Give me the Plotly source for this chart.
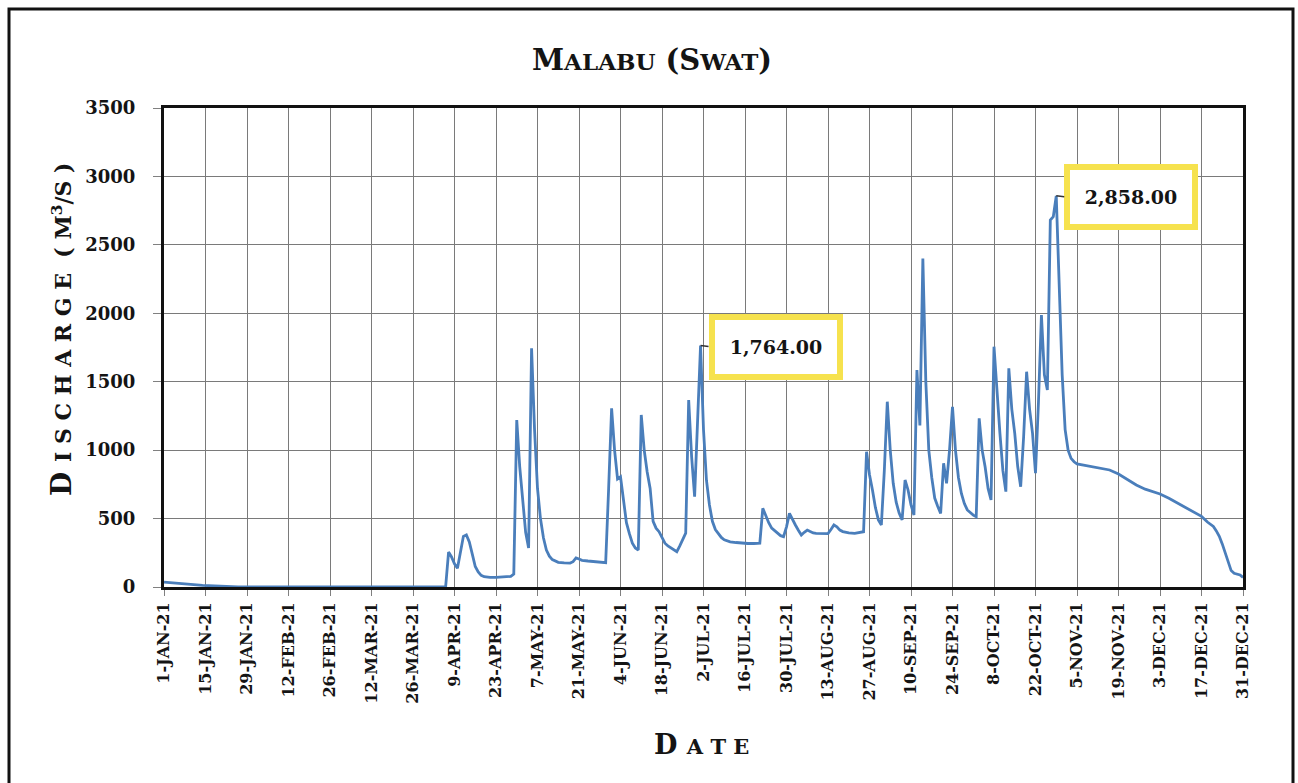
import plotly.graph_objects as go

# Daily discharge readings, Malabu gauge on the Swat river, 2021
obs_dates = [
    "2021-01-01", "2021-01-04", "2021-01-07", "2021-01-10", "2021-01-14", "2021-01-18",
    "2021-01-22", "2021-01-26", "2021-04-06",
    "2021-04-07", "2021-04-08", "2021-04-09", "2021-04-10", "2021-04-11", "2021-04-12",
    "2021-04-13", "2021-04-14", "2021-04-15", "2021-04-16", "2021-04-17", "2021-04-18",
    "2021-04-19", "2021-04-20", "2021-04-21", "2021-04-23", "2021-04-25", "2021-04-27",
    "2021-04-28", "2021-04-29", "2021-04-30",
    "2021-05-01", "2021-05-02", "2021-05-03", "2021-05-04", "2021-05-05", "2021-05-06",
    "2021-05-07", "2021-05-08", "2021-05-09", "2021-05-10", "2021-05-11", "2021-05-12",
    "2021-05-13", "2021-05-14", "2021-05-16", "2021-05-18", "2021-05-19", "2021-05-20",
    "2021-05-21", "2021-05-22", "2021-05-24", "2021-05-26", "2021-05-28", "2021-05-30",
    "2021-05-31",
    "2021-06-01", "2021-06-02", "2021-06-03", "2021-06-04", "2021-06-05", "2021-06-06",
    "2021-06-07", "2021-06-08", "2021-06-09", "2021-06-10", "2021-06-11", "2021-06-12",
    "2021-06-13", "2021-06-14", "2021-06-15", "2021-06-16", "2021-06-17", "2021-06-18",
    "2021-06-19", "2021-06-20", "2021-06-21", "2021-06-22", "2021-06-23", "2021-06-24",
    "2021-06-25", "2021-06-26", "2021-06-27", "2021-06-28", "2021-06-29", "2021-06-30",
    "2021-07-01", "2021-07-02", "2021-07-03", "2021-07-04", "2021-07-05", "2021-07-06",
    "2021-07-07", "2021-07-08", "2021-07-09", "2021-07-10", "2021-07-11", "2021-07-13",
    "2021-07-15", "2021-07-17", "2021-07-19", "2021-07-21", "2021-07-22", "2021-07-23",
    "2021-07-24", "2021-07-25", "2021-07-26", "2021-07-27", "2021-07-28", "2021-07-29",
    "2021-07-30", "2021-07-31",
    "2021-08-01", "2021-08-02", "2021-08-03", "2021-08-04", "2021-08-05", "2021-08-06",
    "2021-08-07", "2021-08-08", "2021-08-09", "2021-08-11", "2021-08-13", "2021-08-14",
    "2021-08-15", "2021-08-16", "2021-08-17", "2021-08-18", "2021-08-20", "2021-08-22",
    "2021-08-24", "2021-08-25", "2021-08-26", "2021-08-27", "2021-08-28", "2021-08-29",
    "2021-08-30", "2021-08-31",
    "2021-09-01", "2021-09-02", "2021-09-03", "2021-09-04", "2021-09-05", "2021-09-06",
    "2021-09-07", "2021-09-08", "2021-09-09", "2021-09-10", "2021-09-11", "2021-09-12",
    "2021-09-13", "2021-09-14", "2021-09-15", "2021-09-16", "2021-09-17", "2021-09-18",
    "2021-09-19", "2021-09-20", "2021-09-21", "2021-09-22", "2021-09-23", "2021-09-24",
    "2021-09-25", "2021-09-26", "2021-09-27", "2021-09-28", "2021-09-29", "2021-09-30",
    "2021-10-01", "2021-10-02", "2021-10-03", "2021-10-04", "2021-10-05", "2021-10-06",
    "2021-10-07", "2021-10-08", "2021-10-09", "2021-10-10", "2021-10-11", "2021-10-12",
    "2021-10-13", "2021-10-14", "2021-10-15", "2021-10-16", "2021-10-17", "2021-10-18",
    "2021-10-19", "2021-10-20", "2021-10-21", "2021-10-22", "2021-10-23", "2021-10-24",
    "2021-10-25", "2021-10-26", "2021-10-27", "2021-10-28", "2021-10-29", "2021-10-30",
    "2021-10-31",
    "2021-11-01", "2021-11-02", "2021-11-03", "2021-11-04", "2021-11-05", "2021-11-07",
    "2021-11-10", "2021-11-13", "2021-11-16", "2021-11-19", "2021-11-22", "2021-11-25",
    "2021-11-28",
    "2021-12-01", "2021-12-03", "2021-12-06", "2021-12-09", "2021-12-12", "2021-12-15",
    "2021-12-17", "2021-12-19", "2021-12-21", "2021-12-22", "2021-12-23", "2021-12-24",
    "2021-12-25", "2021-12-26", "2021-12-27", "2021-12-28", "2021-12-29", "2021-12-30",
    "2021-12-31",
]

discharge = [
    35, 30, 22, 15, 12, 8,
    3, 0, 0,
    255, 220, 170, 137, 260, 370,
    380, 330, 240, 150, 110, 85,
    75, 72, 70, 70, 72, 75,
    78, 95, 1220,
    880, 620, 400, 285, 1745, 1150,
    720, 500, 360, 270, 225, 200,
    188, 180, 176, 175, 185, 212,
    205, 195, 190, 185, 180, 178,
    720,
    1306, 1000, 790, 805, 620, 470,
    390, 320, 285, 270, 1257, 1000,
    840, 720, 480, 430, 404, 360,
    320, 300, 285, 270, 258, 300,
    343, 394, 1366, 950, 660, 1150,
    1764, 1150, 780, 600, 480, 420,
    390, 362, 345, 335, 330, 325,
    320, 318, 318, 320, 575, 520,
    470, 430, 410, 390, 375, 368,
    440, 538,
    490, 453, 415, 380, 400, 416,
    405, 395, 392, 390, 390, 420,
    453, 440, 416, 405, 395, 392,
    398, 404, 988, 820, 709, 580,
    490, 453,
    850, 1354, 1000, 758, 620, 540,
    490, 782, 709, 600, 526, 1585,
    1180, 2401, 1500, 1000, 800, 650,
    590, 538, 904, 758, 1000, 1317,
    1000, 800, 684, 610, 563, 540,
    525, 514, 1232, 1000, 879, 720,
    636, 1756, 1400, 1123, 850, 697,
    1598, 1300, 1123, 880, 733, 1100,
    1573, 1300, 1123, 831, 1350, 1987,
    1550, 1440, 2681, 2706, 2858, 2200,
    1550,
    1150, 1000, 940, 915, 900, 891,
    880, 868, 855, 826, 785, 745,
    715,
    695, 680, 648, 612, 578, 538,
    516, 475, 442, 410, 370, 315,
    250, 180, 120, 100, 95, 88,
    70,
]

# Fortnightly date ticks along the x axis
tick_dates = [
    "2021-01-01", "2021-01-15", "2021-01-29", "2021-02-12", "2021-02-26", "2021-03-12",
    "2021-03-26", "2021-04-09", "2021-04-23", "2021-05-07", "2021-05-21", "2021-06-04",
    "2021-06-18", "2021-07-02", "2021-07-16", "2021-07-30", "2021-08-13", "2021-08-27",
    "2021-09-10", "2021-09-24", "2021-10-08", "2021-10-22", "2021-11-05", "2021-11-19",
    "2021-12-03", "2021-12-17", "2021-12-31",
]
tick_labels = [
    "1-JAN-21", "15-JAN-21", "29-JAN-21", "12-FEB-21", "26-FEB-21", "12-MAR-21",
    "26-MAR-21", "9-APR-21", "23-APR-21", "7-MAY-21", "21-MAY-21", "4-JUN-21",
    "18-JUN-21", "2-JUL-21", "16-JUL-21", "30-JUL-21", "13-AUG-21", "27-AUG-21",
    "10-SEP-21", "24-SEP-21", "8-OCT-21", "22-OCT-21", "5-NOV-21", "19-NOV-21",
    "3-DEC-21", "17-DEC-21", "31-DEC-21",
]
y_ticks = [0, 500, 1000, 1500, 2000, 2500, 3000, 3500]

# Flood peaks that carry a value callout
peak_dates = ["2021-07-01", "2021-10-29"]

# Page geometry (pixels)
W, H = 1298, 783
ML, MR, MT, MB = 164, 55, 108, 196
PW, PH = W - ML - MR, H - MT - MB


def px_x(px):
    return (px - ML) / PW


def px_y(py):
    return (H - MB - py) / PH


SERIF = "DejaVu Serif"
INK = "#141414"
NB = "\u00a0"


def spaced(word):
    return NB.join(word)


fig = go.Figure()
fig.add_trace(go.Scatter(
    x=obs_dates, y=discharge, mode="lines",
    line=dict(color="#4A7EBB", width=2.8),
    hoverinfo="x+y", showlegend=False,
))

annotations = []
for d in peak_dates:
    v = discharge[obs_dates.index(d)]
    annotations.append(dict(
        x=d, y=v, xref="x", yref="y",
        text=f"{v:,.2f}",
        showarrow=True, arrowhead=0, arrowwidth=1.5, arrowcolor="#333333",
        ax=8, ay=1, axref="pixel", ayref="pixel",
        xanchor="left", yanchor="middle",
        width=102, height=34, borderpad=10,
        bgcolor="white", bordercolor="#F6E24E", borderwidth=6,
        font=dict(family=SERIF, size=19, color=INK, weight="bold"),
    ))

# Chart title in small caps
annotations.append(dict(
    x=px_x(652), y=px_y(60), xref="paper", yref="paper",
    text="M<span style='font-size:23px'>ALABU</span> (S<span style='font-size:23px'>WAT</span>)",
    showarrow=False, xanchor="center", yanchor="middle",
    font=dict(family=SERIF, size=29, color=INK, weight="bold"),
))

# Y axis title, letter spaced small caps
y_title = ("D" + NB + "<span style='font-size:22px'>" + spaced("ISCHARGE") + NB + NB
           + "(" + NB + "M<sup>3</sup>/S" + NB + ")</span>")
annotations.append(dict(
    x=px_x(61), y=px_y(329), xref="paper", yref="paper",
    text=y_title, textangle=-90,
    showarrow=False, xanchor="center", yanchor="middle",
    font=dict(family=SERIF, size=28, color=INK, weight="bold"),
))

# X axis title
annotations.append(dict(
    x=px_x(701), y=px_y(744), xref="paper", yref="paper",
    text="D" + NB + "<span style='font-size:21px'>" + spaced("ATE") + "</span>",
    showarrow=False, xanchor="center", yanchor="middle",
    font=dict(family=SERIF, size=27, color=INK, weight="bold"),
))

# Outer frame around the whole chart
shapes = [dict(
    type="rect", xref="paper", yref="paper",
    x0=px_x(9), x1=px_x(1293), y0=px_y(800), y1=px_y(9),
    line=dict(color="#111111", width=3), fillcolor="rgba(0,0,0,0)", layer="above",
)]

fig.update_layout(
    width=W, height=H, autosize=False,
    margin=dict(l=ML, r=MR, t=MT, b=MB, pad=0),
    paper_bgcolor="white", plot_bgcolor="white",
    annotations=annotations, shapes=shapes,
    showlegend=False,
)

fig.update_xaxes(
    type="date", range=["2021-01-01", "2021-12-31"],
    tickmode="array", tickvals=tick_dates, ticktext=tick_labels,
    tickangle=-90, ticks="outside", ticklen=6, tickcolor="#808080", tickwidth=1,
    tickfont=dict(family=SERIF, size=16, color=INK, weight="bold"),
    showgrid=True, gridcolor="#7A7A7A", gridwidth=1.2,
    showline=True, linecolor="#111111", linewidth=3, mirror=True,
    zeroline=False, automargin=False,
)
fig.update_yaxes(
    range=[0, 3500], tickmode="array", tickvals=y_ticks, tickformat="d",
    ticks="outside", ticklen=8, tickcolor="#808080", tickwidth=1,
    ticklabelstandoff=14,
    tickfont=dict(family=SERIF, size=18, color=INK, weight="bold"),
    showgrid=True, gridcolor="#7A7A7A", gridwidth=1.2,
    showline=True, linecolor="#111111", linewidth=3, mirror=True,
    zeroline=False, automargin=False,
)

fig.write_html("out.html")
